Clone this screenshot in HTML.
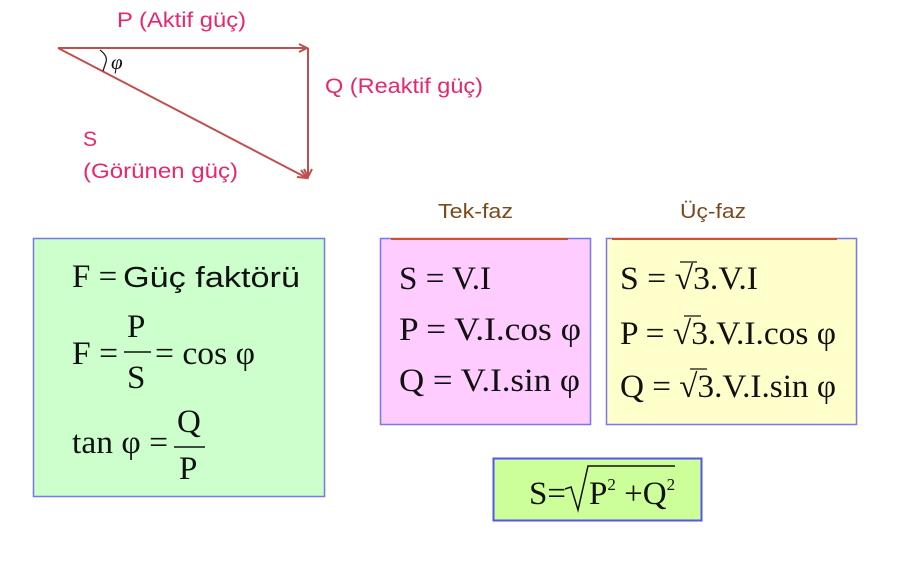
<!DOCTYPE html>
<html><head><meta charset="utf-8"><style>
html,body{margin:0;padding:0;background:#fff;}
svg{display:block}
.m{font-family:"Liberation Serif",serif;font-size:33px;fill:#111}
.l{font-family:"Liberation Sans",sans-serif;font-size:21px;fill:#e8266f}
.h{font-family:"Liberation Sans",sans-serif;font-size:20px;fill:#7a4a1a}
</style></head><body>
<svg width="900" height="570" viewBox="0 0 900 570" xmlns="http://www.w3.org/2000/svg">
<rect width="900" height="570" fill="#fff"/>
<g stroke="#c0504d" stroke-width="2" fill="none">
<line x1="58" y1="48" x2="307" y2="48"/>
<polyline points="299,44 307,48 299,52"/>
<line x1="308" y1="48" x2="308" y2="177"/>
<polyline points="304,169 308,177 312,169"/>
<line x1="58" y1="48" x2="307" y2="178"/>
<polyline points="297,177 307,178 301,170"/>
</g>
<path d="M100,50 Q108,56 106,62 Q104,68 103,71" stroke="#222" stroke-width="1.3" fill="none"/>
<text x="111" y="69" style="font-family:'Liberation Serif',serif;font-style:italic;font-size:21px;fill:#111">φ</text>
<text class="l" x="117" y="27" textLength="129" lengthAdjust="spacingAndGlyphs">P (Aktif güç)</text>
<text class="l" x="325" y="93" textLength="158" lengthAdjust="spacingAndGlyphs">Q (Reaktif güç)</text>
<text class="l" x="83" y="146">S</text>
<text class="l" x="83" y="178" textLength="155" lengthAdjust="spacingAndGlyphs">(Görünen güç)</text>
<text class="h" x="438" y="218" textLength="75" lengthAdjust="spacingAndGlyphs">Tek-faz</text>
<text class="h" x="680" y="218" textLength="66" lengthAdjust="spacingAndGlyphs">Üç-faz</text>
<!-- left box -->
<rect x="33.5" y="238.5" width="291" height="258" fill="#ccffcc" stroke="#7777ee" stroke-width="1.5"/>
<text class="m" x="72" y="287">F =</text>
<text x="123" y="287" textLength="177" lengthAdjust="spacingAndGlyphs" style="font-family:'Liberation Sans',sans-serif;font-size:29px;fill:#111">Güç faktörü</text>
<text class="m" x="72" y="364" textLength="46" lengthAdjust="spacingAndGlyphs">F =</text>
<text class="m" x="127" y="337">P</text>
<line x1="124" y1="352" x2="151" y2="352" stroke="#111" stroke-width="1.5"/>
<text class="m" x="127" y="388">S</text>
<text class="m" x="155" y="364" textLength="100" lengthAdjust="spacingAndGlyphs">= cos φ</text>
<text class="m" x="72" y="453" textLength="96" lengthAdjust="spacingAndGlyphs">tan φ =</text>
<text class="m" x="177" y="432">Q</text>
<line x1="174" y1="447" x2="205" y2="447" stroke="#111" stroke-width="1.5"/>
<text class="m" x="179" y="479">P</text>
<!-- pink -->
<rect x="380.5" y="238.5" width="210" height="186" fill="#ffccff" stroke="#7777ee" stroke-width="1.5"/>
<line x1="391" y1="239" x2="568" y2="239" stroke="#d5502a" stroke-width="2"/>
<text class="m" x="399" y="289" textLength="92" lengthAdjust="spacingAndGlyphs">S = V.I</text>
<text class="m" x="399" y="340" textLength="182" lengthAdjust="spacingAndGlyphs">P = V.I.cos φ</text>
<text class="m" x="399" y="391" textLength="181" lengthAdjust="spacingAndGlyphs">Q = V.I.sin φ</text>
<!-- yellow -->
<rect x="606.5" y="238.5" width="250" height="186" fill="#ffffcc" stroke="#7777ee" stroke-width="1.5"/>
<line x1="612" y1="239" x2="837" y2="239" stroke="#d5502a" stroke-width="2"/>
<text class="m" x="620" y="289" textLength="138" lengthAdjust="spacingAndGlyphs">S = √3.V.I</text>
<line x1="680" y1="262" x2="697" y2="262" stroke="#111" stroke-width="1.3"/>
<text class="m" x="620" y="344" textLength="216" lengthAdjust="spacingAndGlyphs">P = √3.V.I.cos φ</text>
<line x1="684" y1="316" x2="701" y2="316" stroke="#111" stroke-width="1.3"/>
<text class="m" x="620" y="397" textLength="216" lengthAdjust="spacingAndGlyphs">Q = √3.V.I.sin φ</text>
<line x1="690" y1="369" x2="707" y2="369" stroke="#111" stroke-width="1.3"/>
<!-- green small -->
<rect x="493.5" y="458.5" width="208" height="62" fill="#ccff99" stroke="#5555ee" stroke-width="2"/>
<text class="m" x="529" y="504">S=</text>
<path d="M565,489 L571,487 L578,510 L588,466 L675,466" stroke="#111" stroke-width="1.5" fill="none"/>
<text class="m" x="589" y="504">P<tspan font-size="17" dy="-14">2</tspan><tspan dy="14"> +Q</tspan><tspan font-size="17" dy="-14">2</tspan></text>
</svg>
</body></html>
